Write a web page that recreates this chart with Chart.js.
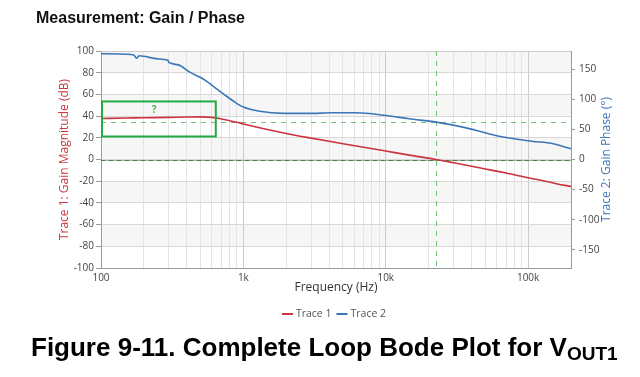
<!DOCTYPE html>
<html>
<head>
<meta charset="utf-8">
<script src="https://cdn.jsdelivr.net/npm/chart.js@4.4.1/dist/chart.umd.min.js"></script>
<style>
    body { margin: 0; background: #fff; }
    #wrap { position: relative; width: 640px; height: 377px; overflow: hidden; }
    #bode { position: absolute; left: 0; top: 0; }
    .judul {
        position: absolute; left: 36px; top: 10px; white-space: nowrap;
        font: bold 16px/16px "Liberation Sans", Arial, sans-serif; color: #111;
    }
    .caption {
        position: absolute; left: 31px; top: 334px; white-space: nowrap;
        font: bold 26px/26px "Liberation Sans", Arial, sans-serif; color: #000;
    }
    .caption span { font-size: 19px; position: relative; top: 3.5px; }
</style>
</head>
<body>
<div id="wrap">
    <canvas id="bode" width="640" height="377"></canvas>
    <div class="judul">Measurement: Gain / Phase</div>
    <div class="caption">Figure 9-11. Complete Loop Bode Plot for V<span>OUT1</span></div>
</div>
<script>
// Data
const gainFreq = [100, 150, 200, 300, 400, 500, 600, 700, 800, 900, 1000, 1500, 2000, 2500, 3000, 4000, 5000, 7000,
    10000, 15000, 22600, 30000, 40000, 50000, 62500, 80000, 100000, 130000, 160000, 200000];
const gainDb = [37.8, 38.2, 38.5, 38.8, 39.2, 39.3, 38.8, 37.4, 35.8, 34.3, 32.8, 27.5, 24.0, 21.5, 19.7, 16.8, 14.5, 11.3,
    7.8, 3.8, 0, -3.0, -6.2, -8.7, -11.2, -14.0, -16.8, -19.8, -22.5, -24.8];

const phaseFreq = [100, 130, 170, 178, 185, 250, 295, 300, 350, 420, 500, 550, 650, 750, 850, 1000, 1300, 1900, 2900,
    4200, 6200, 10000, 14600, 22600, 36700, 62500, 106000, 147000, 200000];
const phaseDeg = [175.5, 175, 173.5, 168, 172, 167, 164.5, 161, 157, 145, 136, 130, 117, 106, 97, 87, 80, 76.5, 76.5,
    77.5, 77.5, 73, 67.5, 62, 52.5, 38.6, 30.3, 26.5, 17.7];

const decadeLabels = { 100: '100', 1000: '1k', 10000: '10k', 100000: '100k' };
const gainTicks = [-100, -80, -60, -40, -20, 0, 20, 40, 60, 80, 100];
const phaseTicks = [-150, -100, -50, 0, 50, 100, 150];

// Penanda: frekuensi crossover, phase margin, kotak "?"
const crossoverHz = 22600;
const phaseMarginDeg = 61.5;
const boxHz = [101.6, 640];
const boxDb = [21.2, 53.5];

const redColor = '#cc3340';
const blueColor = '#3d76b8';
const greenDash = '#74c274';
const fontFam = '"Open Sans", sans-serif';

// tick log: 1..9 per dekade sampai 200k
const xTicks = [];
for (let d = 100; d <= 100000; d *= 10) {
    for (let m = 1; m <= 9; m++) {
        if (d * m <= 200000) xTicks.push(d * m);
    }
}
xTicks.push(200000);

function toPoints(xs, ys) {
    return xs.map((x, i) => ({ x: x, y: ys[i] }));
}

// Pita abu-abu selang-seling di belakang grid
const bandPlugin = {
    id: 'bands',
    beforeDraw(chart) {
        const { ctx, chartArea: a, scales } = chart;
        const y = scales.y;
        ctx.save();
        ctx.fillStyle = '#f6f6f6';
        for (let i = gainTicks.length - 1; i > 0; i -= 2) {
            const top = y.getPixelForValue(gainTicks[i]);
            const bot = y.getPixelForValue(gainTicks[i - 1]);
            ctx.fillRect(a.left, top, a.right - a.left, bot - top);
        }
        ctx.restore();
    }
};

// Garis putus-putus hijau dan garis nol
const markerPlugin = {
    id: 'markers',
    beforeDatasetsDraw(chart) {
        const { ctx, chartArea: a, scales } = chart;
        ctx.save();
        ctx.lineWidth = 1;
        // garis atas area plot
        ctx.strokeStyle = '#cccccc';
        ctx.beginPath();
        ctx.moveTo(a.left, a.top + 0.5);
        ctx.lineTo(a.right, a.top + 0.5);
        ctx.stroke();

        const y0 = Math.round(scales.y.getPixelForValue(0)) + 0.5;
        ctx.setLineDash([4, 4]);
        ctx.strokeStyle = '#666';
        ctx.beginPath();
        ctx.moveTo(a.left, y0);
        ctx.lineTo(a.right, y0);
        ctx.stroke();
        ctx.lineDashOffset = 4;
        ctx.strokeStyle = greenDash;
        ctx.stroke();
        ctx.lineDashOffset = 0;

        ctx.setLineDash([5, 5]);
        ctx.strokeStyle = greenDash;
        const pm = Math.round(scales.y1.getPixelForValue(phaseMarginDeg)) + 0.5;
        ctx.beginPath();
        ctx.moveTo(a.left, pm);
        ctx.lineTo(a.right, pm);
        ctx.stroke();
        const xc = Math.round(scales.x.getPixelForValue(crossoverHz)) + 0.5;
        ctx.beginPath();
        ctx.moveTo(xc, a.top);
        ctx.lineTo(xc, a.bottom);
        ctx.stroke();
        ctx.restore();
    },
    afterDatasetsDraw(chart) {
        const { ctx, scales } = chart;
        const x1 = scales.x.getPixelForValue(boxHz[0]);
        const x2 = scales.x.getPixelForValue(boxHz[1]);
        const y1 = scales.y.getPixelForValue(boxDb[1]);
        const y2 = scales.y.getPixelForValue(boxDb[0]);
        ctx.save();
        ctx.strokeStyle = '#22aa44';
        ctx.lineWidth = 2;
        ctx.strokeRect(x1, y1, x2 - x1, y2 - y1);
        ctx.fillStyle = '#44bb55';
        ctx.font = 'bold 10px ' + fontFam;
        ctx.textAlign = 'center';
        ctx.textBaseline = 'middle';
        ctx.fillText('?', scales.x.getPixelForValue(236), scales.y.getPixelForValue(45.2));
        ctx.restore();
    }
};

// Judul sumbu kanan (dibaca dari bawah ke atas) dan legenda
const extraTextPlugin = {
    id: 'extraText',
    afterDraw(chart) {
        const { ctx, chartArea: a } = chart;
        ctx.save();
        ctx.translate(607, (a.top + a.bottom) / 2);
        ctx.rotate(-Math.PI / 2);
        ctx.fillStyle = blueColor;
        ctx.font = '12px ' + fontFam;
        ctx.textAlign = 'center';
        ctx.textBaseline = 'middle';
        ctx.fillText('Trace 2: Gain Phase (°)', 0, 0);
        ctx.restore();

        // legenda manual
        ctx.save();
        ctx.font = '10.5px ' + fontFam;
        ctx.textBaseline = 'middle';
        const items = chart.data.datasets;
        const lineW = 11, gap = 3, itemGap = 5;
        let total = 0;
        items.forEach((ds, i) => {
            total += lineW + gap + ctx.measureText(ds.label).width + (i < items.length - 1 ? itemGap : 0);
        });
        let x = 334 - total / 2;
        const y = 314;
        items.forEach(ds => {
            ctx.strokeStyle = ds.borderColor;
            ctx.lineWidth = 2;
            ctx.beginPath();
            ctx.moveTo(x, y);
            ctx.lineTo(x + lineW, y);
            ctx.stroke();
            x += lineW + gap;
            ctx.fillStyle = '#555';
            ctx.fillText(ds.label, x, y);
            x += ctx.measureText(ds.label).width + itemGap;
        });
        ctx.restore();
    }
};

const ctx = document.getElementById('bode').getContext('2d');
new Chart(ctx, {
    type: 'line',
    data: {
        datasets: [{
            label: 'Trace 1',
            data: toPoints(gainFreq, gainDb),
            borderColor: redColor,
            borderWidth: 1.6,
            pointRadius: 0,
            cubicInterpolationMode: 'monotone',
            yAxisID: 'y'
        }, {
            label: 'Trace 2',
            data: toPoints(phaseFreq, phaseDeg),
            borderColor: blueColor,
            borderWidth: 1.6,
            pointRadius: 0,
            cubicInterpolationMode: 'monotone',
            yAxisID: 'y1'
        }]
    },
    options: {
        responsive: false,
        animation: false,
        devicePixelRatio: 1,
        layout: { padding: { top: 51, left: 0, right: 0, bottom: 82 } },
        plugins: {
            legend: { display: false },
            tooltip: { enabled: false }
        },
        scales: {
            x: {
                type: 'logarithmic',
                min: 100,
                max: 200000,
                afterBuildTicks: scale => { scale.ticks = xTicks.map(v => ({ value: v })); },
                afterFit: scale => { scale.height = 27; },
                ticks: {
                    autoSkip: false,
                    maxRotation: 0,
                    padding: 4,
                    color: '#444',
                    font: { family: fontFam, size: 10 },
                    callback: value => decadeLabels[value] || ''
                },
                grid: {
                    drawTicks: false,
                    color: c => (c.tick && decadeLabels[c.tick.value]) ? '#cccccc' : '#e4e4e4'
                },
                border: { color: '#999' },
                title: {
                    display: true,
                    text: 'Frequency (Hz)',
                    color: '#333',
                    font: { family: fontFam, size: 12 },
                    padding: { top: 0, bottom: 0 }
                }
            },
            y: {
                position: 'left',
                min: -100,
                max: 100,
                afterBuildTicks: scale => { scale.ticks = gainTicks.map(v => ({ value: v })); },
                afterFit: scale => { scale.width = 101; },
                ticks: {
                    padding: 2,
                    color: '#444',
                    font: { family: fontFam, size: 10 }
                },
                grid: { color: '#d8d8d8', tickLength: 5, tickColor: '#999' },
                border: { color: '#999' },
                title: {
                    display: true,
                    text: 'Trace 1: Gain Magnitude (dB)',
                    color: '#c8383f',
                    font: { family: fontFam, size: 12 },
                    padding: { top: 57, bottom: 0 }
                }
            },
            y1: {
                position: 'right',
                min: -180,
                max: 180,
                afterBuildTicks: scale => { scale.ticks = phaseTicks.map(v => ({ value: v })); },
                afterFit: scale => { scale.width = 69; },
                ticks: {
                    padding: 4,
                    color: '#444',
                    font: { family: fontFam, size: 10 }
                },
                grid: { drawOnChartArea: false, tickLength: 4, tickColor: '#999' },
                border: { color: '#999' }
            }
        }
    },
    plugins: [bandPlugin, markerPlugin, extraTextPlugin]
});
</script>
</body>
</html>
